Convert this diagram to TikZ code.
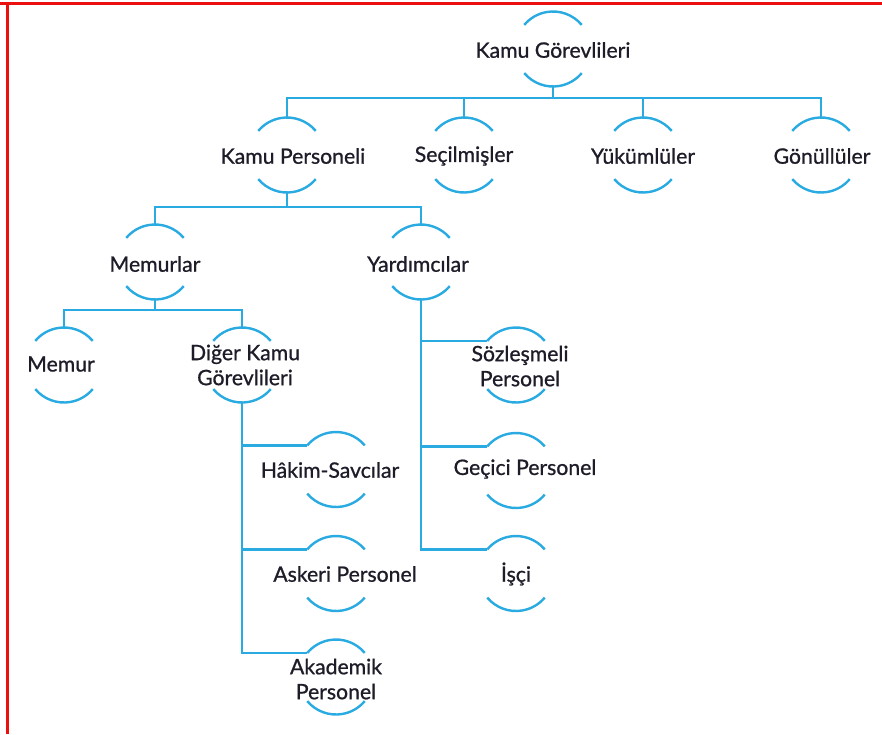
\documentclass[tikz,border=0pt]{standalone}
\usepackage{fontspec}
\setmainfont{Lato}[FakeBold=0.9]
\usepackage{xcolor}

\definecolor{mavi}{RGB}{41,170,225}
\definecolor{kirmizi}{RGB}{235,15,15}
\definecolor{yazirengi}{RGB}{30,28,40}

\tikzset{
  halka/.style={circle, minimum size=37.5pt, inner sep=0pt, outer sep=0pt},
  yazi/.style={align=center, text=yazirengi, inner sep=0pt, font=\fontsize{10.6}{12.5}\selectfont},
  yay/.style={draw=mavi, line width=1.2pt},
  bag/.style={draw=mavi, line width=1.3pt}
}

\begin{document}
\begin{tikzpicture}[x=0.5pt,y=-0.5pt]
\useasboundingbox (0,0) rectangle (882,734);

%Cerceve
\draw[kirmizi, line width=1.3pt] (0,3.5) -- (882,3.5);
\draw[kirmizi, line width=1.3pt] (7.5,3.5) -- (7.5,734);

%Ust seviye
\node[halka] (kg) at (553,49) {};
\node[yazi] (kg-y) at (553,50) {Kamu Görevlileri};

%Ikinci seviye
\node[halka] (kp) at (287,155) {};
\node[yazi] (kp-y) at (293,156) {Kamu Personeli};
\node[halka] (sec) at (464,155) {};
\node[yazi] (sec-y) at (464,156) {Seçilmişler};
\node[halka] (yuk) at (643,155) {};
\node[yazi] (yuk-y) at (643,156) {Yükümlüler};
\node[halka] (gon) at (821,155) {};
\node[yazi] (gon-y) at (822,156) {Gönüllüler};

%Ucuncu seviye
\node[halka] (mem) at (155,262) {};
\node[yazi] (mem-y) at (155,264) {Memurlar};
\node[halka] (yar) at (421,262) {};
\node[yazi] (yar-y) at (418,264) {Yardımcılar};

%Alt seviye
\node[halka] (memur) at (64,365) {};
\node[yazi] (memur-y) at (61,364) {Memur};
\node[halka] (diger) at (242,365) {};
\node[yazi] (diger-y) at (245,365) {Diğer Kamu\\Görevlileri};
\node[halka] (hak) at (336,469.5) {};
\node[yazi] (hak-y) at (330,470) {Hâkim-Savcılar};
\node[halka] (ask) at (336,573.5) {};
\node[yazi] (ask-y) at (345,574) {Askeri Personel};
\node[halka] (aka) at (336,677) {};
\node[yazi] (aka-y) at (336,679) {Akademik\\Personel};
\node[halka] (soz) at (516,365) {};
\node[yazi] (soz-y) at (520,366) {Sözleşmeli\\Personel};
\node[halka] (gec) at (516,470.5) {};
\node[yazi] (gec-y) at (525,469) {Geçici Personel};
\node[halka] (isci) at (516,573.5) {};
\node[yazi] (isci-y) at (516,574) {İşçi};

%Yaylar
\foreach \n in {kg,kp,sec,yuk,gon,mem,yar,memur,diger,hak,ask,aka,soz,gec,isci} {
  \draw[yay] (\n.40) arc (40:140:18.75pt);
  \draw[yay] (\n.220) arc (220:320:18.75pt);
}

%Baglantilar
\foreach \c in {kp,sec,yuk,gon}
  \draw[bag] (kg.south) -- ++(0,11.5) -| (\c.north);
\foreach \c in {mem,yar}
  \draw[bag] (kp.south) -- ++(0,14.5) -| (\c.north);
\foreach \c in {memur,diger}
  \draw[bag] (mem.south) -- ++(0,10.5) -| (\c.north);
\foreach \c in {hak,ask,aka}
  \draw[bag] (diger.south) |- (\c.140);
\foreach \c in {soz,gec,isci}
  \draw[bag] (yar.south) |- (\c.140);

\end{tikzpicture}
\end{document}
